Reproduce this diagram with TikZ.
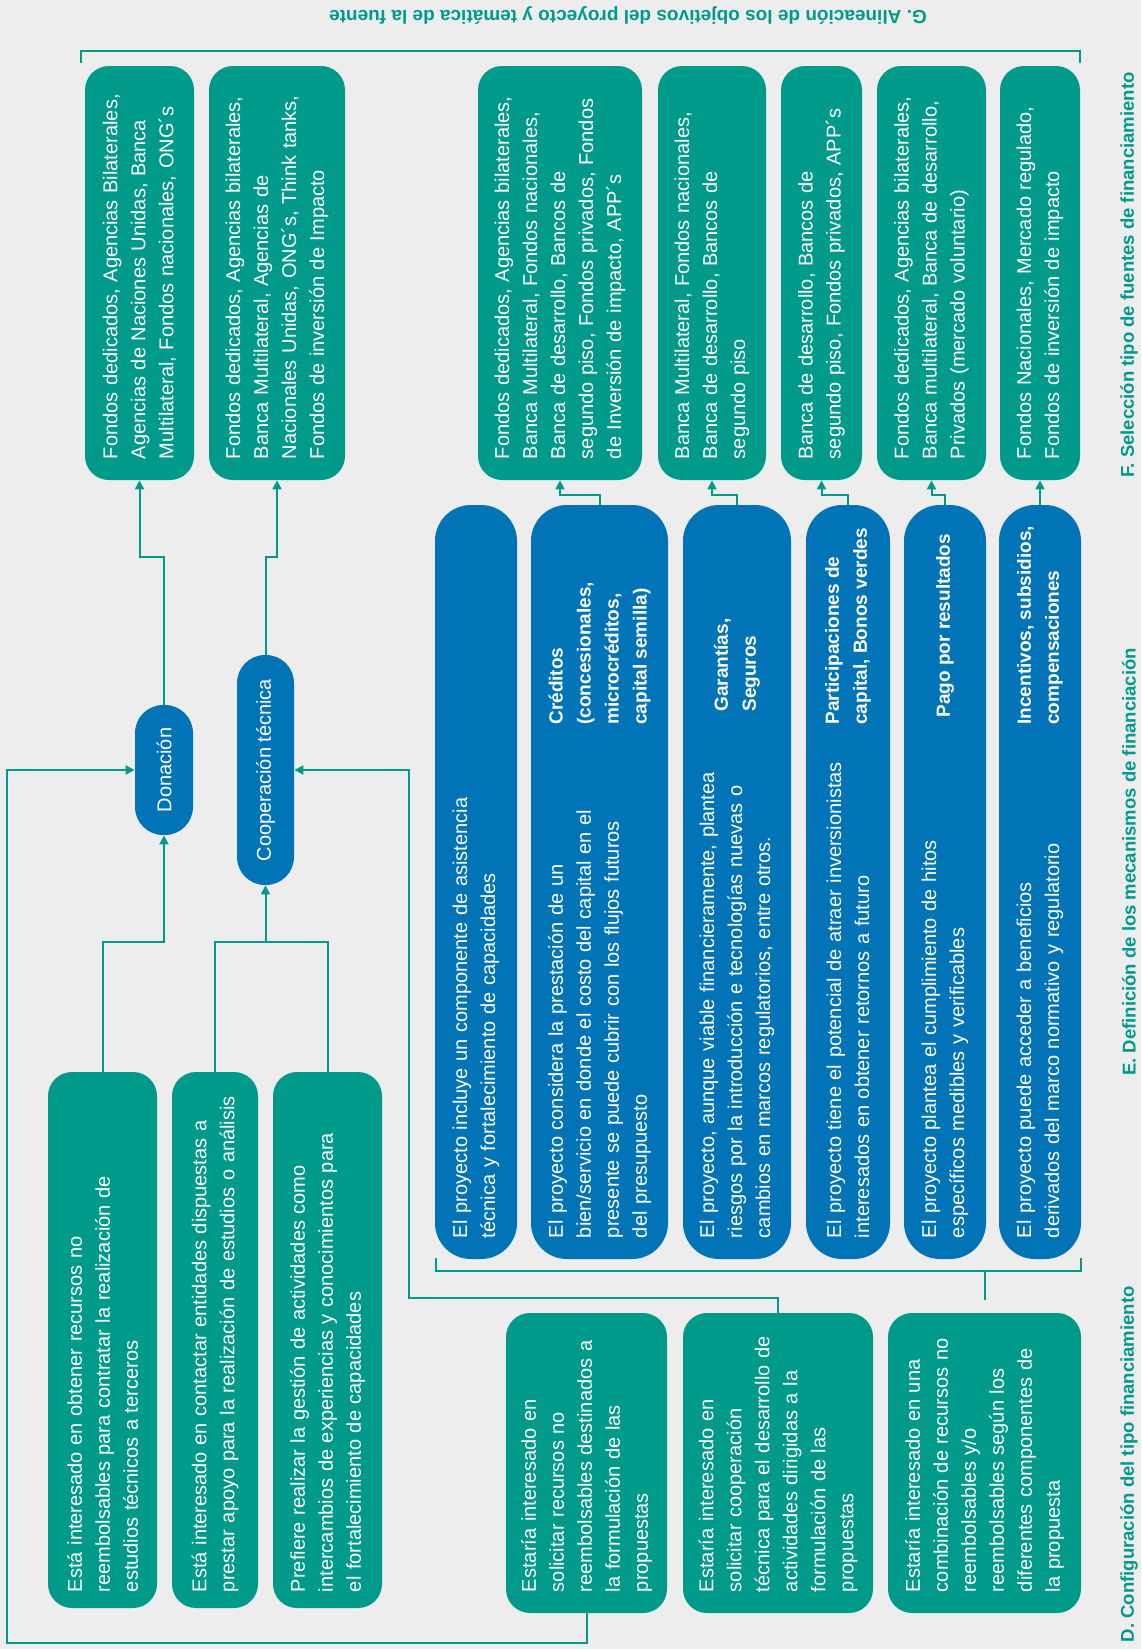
\documentclass[tikz,border=0pt]{standalone}
\usepackage{fontspec}
\setmainfont{Liberation Sans}
\usetikzlibrary{arrows.meta, positioning, calc}

\definecolor{verde}{HTML}{009A8B}
\definecolor{azul}{HTML}{0074B6}
\definecolor{fondo}{HTML}{EDEDED}
\newcommand{\cajatxt}{\fontsize{10pt}{14pt}\selectfont}
\newcommand{\rotulo}{\fontsize{9.25pt}{11pt}\selectfont\bfseries}

\tikzset{
  caja/.style={rotate=90, text=white, align=left, inner xsep=10.5pt, inner ysep=0pt, font=\cajatxt},
  fuente/.style={caja, fill=verde, rounded corners=12pt, minimum width=207pt, text width=186pt},
  mecanismo/.style={caja, fill=azul, rounded corners=18pt, minimum width=377pt, text width=356pt},
  perfil/.style={caja, fill=verde, rounded corners=12pt, minimum width=268pt, inner xsep=8pt, text width=252pt},
  solicitud/.style={caja, fill=verde, rounded corners=12pt, minimum width=150pt, text width=129pt},
  tipo/.style={rotate=90, fill=azul, text=white, font=\cajatxt, rounded corners=14pt, inner sep=0pt},
  etiqueta/.style={rotate=90, text=white, font=\fontsize{9.5pt}{14pt}\selectfont\bfseries, align=left, inner sep=0pt, anchor=west},
  titulo/.style={text=verde, font=\rotulo, inner sep=0pt},
  linea/.style={draw=verde, line width=1pt},
  flecha/.style={linea, -{Triangle[length=4.5pt, width=4.5pt]}}
}

\begin{document}
\begin{tikzpicture}[x=0.5pt, y=-0.5pt]
  \fill[fondo] (0,0) rectangle (1141,1649);
  \useasboundingbox (0,0) rectangle (1141,1649);

  % titulos
  \node[titulo, rotate=180, font=\fontsize{9.5pt}{11pt}\selectfont\bfseries] (tg) at (628,15) {G. Alineación de los objetivos del proyecto y temática de la fuente};
  \node[titulo, rotate=90] (tf) at (1129,275) {F. Selección tipo de fuentes de financiamiento};
  \node[titulo, rotate=90] (te) at (1129,862) {E. Definición de los mecanismos de financiación};
  \node[titulo, rotate=90, anchor=east] (td) at (1129,1286) {D. Configuración del tipo financiamiento};

  % F. fuentes
  \node[fuente, minimum height=54.5pt] (f1) at (139.5,273) {Fondos dedicados, Agencias Bilaterales,\\Agencias de Naciones Unidas, Banca\\Multilateral, Fondos nacionales, ONG´s};
  \node[fuente, minimum height=68pt] (f2) at (277,273) {Fondos dedicados, Agencias bilaterales,\\Banca Multilateral, Agencias de\\Nacionales Unidas, ONG´s, Think tanks,\\Fondos de inversión de Impacto};
  \node[fuente, minimum height=82pt] (f3) at (560,273) {Fondos dedicados, Agencias bilaterales,\\Banca Multilateral, Fondos nacionales,\\Banca de desarrollo, Bancos de\\segundo piso, Fondos privados, Fondos\\de Inversión de impacto,  APP´s};
  \node[fuente, minimum height=54pt] (f4) at (712,273) {Banca Multilateral, Fondos nacionales,\\Banca de desarrollo, Bancos de\\segundo piso};
  \node[fuente, minimum height=40.5pt] (f5) at (821.5,273) {Banca de desarrollo, Bancos de\\segundo piso, Fondos privados, APP´s};
  \node[fuente, minimum height=54.5pt] (f6) at (931.5,273) {Fondos dedicados, Agencias bilaterales,\\Banca multilateral, Banca de desarrollo,\\Privados (mercado voluntario)};
  \node[fuente, minimum height=40pt] (f7) at (1040,273) {Fondos Nacionales, Mercado regulado,\\Fondos de inversión de impacto};

  % E. mecanismos
  \node[mecanismo, minimum height=41pt] (e1) at (476,882) {El proyecto incluye un componente de asistencia\\técnica y fortalecimiento de capacidades};
  \node[mecanismo, minimum height=68.5pt] (e2) at (599.5,882) {El proyecto considera la prestación de un\\bien/servicio en donde el costo del capital en el\\presente se puede cubrir con los flujos futuros\\del presupuesto};
  \node[mecanismo, minimum height=54pt] (e3) at (737,882) {El proyecto, aunque viable financieramente, plantea\\riesgos por la introducción e tecnologías nuevas o\\cambios en marcos regulatorios, entre otros.};
  \node[mecanismo, minimum height=42pt] (e4) at (848,882) {El proyecto tiene el potencial de atraer inversionistas\\interesados en obtener retornos a futuro};
  \node[mecanismo, minimum height=41pt] (e5) at (945,882) {El proyecto plantea el cumplimiento de hitos\\específicos medibles y verificables};
  \node[mecanismo, minimum height=41pt] (e6) at (1040,882) {El proyecto puede acceder a beneficios\\derivados del marco normativo y regulatorio};

  \node[etiqueta] (k2) at (599.5,725) {Créditos\\(concesionales,\\microcréditos,\\capital semilla)};
  \node[etiqueta] (k3) at (737,712) {Garantías,\\Seguros};
  \node[etiqueta] (k4) at (848,725) {Participaciones de\\capital, Bonos verdes};
  \node[etiqueta] (k5) at (945,718) {Pago por resultados};
  \node[etiqueta] (k6) at (1040,725) {Incentivos, subsidios,\\compensaciones};

  % tipos
  \node[tipo, minimum width=65pt, minimum height=29pt] (don) at (164,770) {Donación};
  \node[tipo, minimum width=115pt, minimum height=28.5pt] (coop) at (265.5,770) {Cooperación técnica};

  % D. configuracion
  \node[perfil, minimum height=54.5pt] (l1) at (102.5,1340) {Está interesado en obtener recursos no\\reembolsables para contratar la realización de\\estudios técnicos a terceros};
  \node[perfil, minimum height=43pt] (l2) at (215,1340) {Está interesado en contactar entidades dispuestas a\\prestar apoyo para la realización de estudios o análisis};
  \node[perfil, minimum height=54.5pt] (l3) at (327.5,1340) {Prefiere realizar la gestión de actividades como\\intercambios de experiencias y conocimientos para\\el fortalecimiento de capacidades};

  \node[solicitud, minimum height=80.5pt] (r1) at (586.5,1463) {Estaría interesado en\\solicitar recursos no\\reembolsables  destinados a\\la formulación de las\\propuestas};
  \node[solicitud, minimum height=95pt] (r2) at (778,1463) {Estaría interesado en\\solicitar cooperación\\técnica para el desarrollo de\\actividades dirigidas a la\\formulación de las\\propuestas};
  \node[solicitud, minimum height=96.5pt] (r3) at (984.5,1463) {Estaría interesado en una\\combinación de recursos no\\reembolsables y/o\\reembolsables según los\\diferentes componentes de\\la propuesta};

  % niveles de las lineas
  \coordinate (nivF) at (0,557);
  \coordinate (nivE) at (0,495);
  \coordinate (nivD) at (0,942);
  \coordinate (esqIzq) at (7,1643);
  \coordinate (esqDer) at (409,1298);

  \draw[flecha] (l1.east) |- (don.west |- nivD) -- (don.west);
  \draw[linea] (l2.east) |- (coop.west |- nivD) -| (l3.east);
  \draw[flecha] (coop.west |- nivD) -- (coop.west);
  \draw[flecha] (r1.west) |- (esqIzq) |- (don.north);
  \draw[flecha] (r2.east) |- (esqDer) |- (coop.south);
  \draw[flecha] (don.east) |- (f1.west |- nivF) -- (f1.west);
  \draw[flecha] (coop.east) |- (f2.west |- nivF) -- (f2.west);
  \foreach \m/\f in {e2/f3, e3/f4, e4/f5, e5/f6, e6/f7}
    \draw[flecha] (\m.east) |- (\f.west |- nivE) -- (\f.west);

  % llaves
  \draw[linea] (81,63) -- (81,51) -- (1080,51) -- (1080,63);
  \draw[linea] (436,1258) -- (436,1271) -- (1081,1271) -- (1081,1258);
  \draw[linea] (985,1271) -- (985,1300);
\end{tikzpicture}
\end{document}
